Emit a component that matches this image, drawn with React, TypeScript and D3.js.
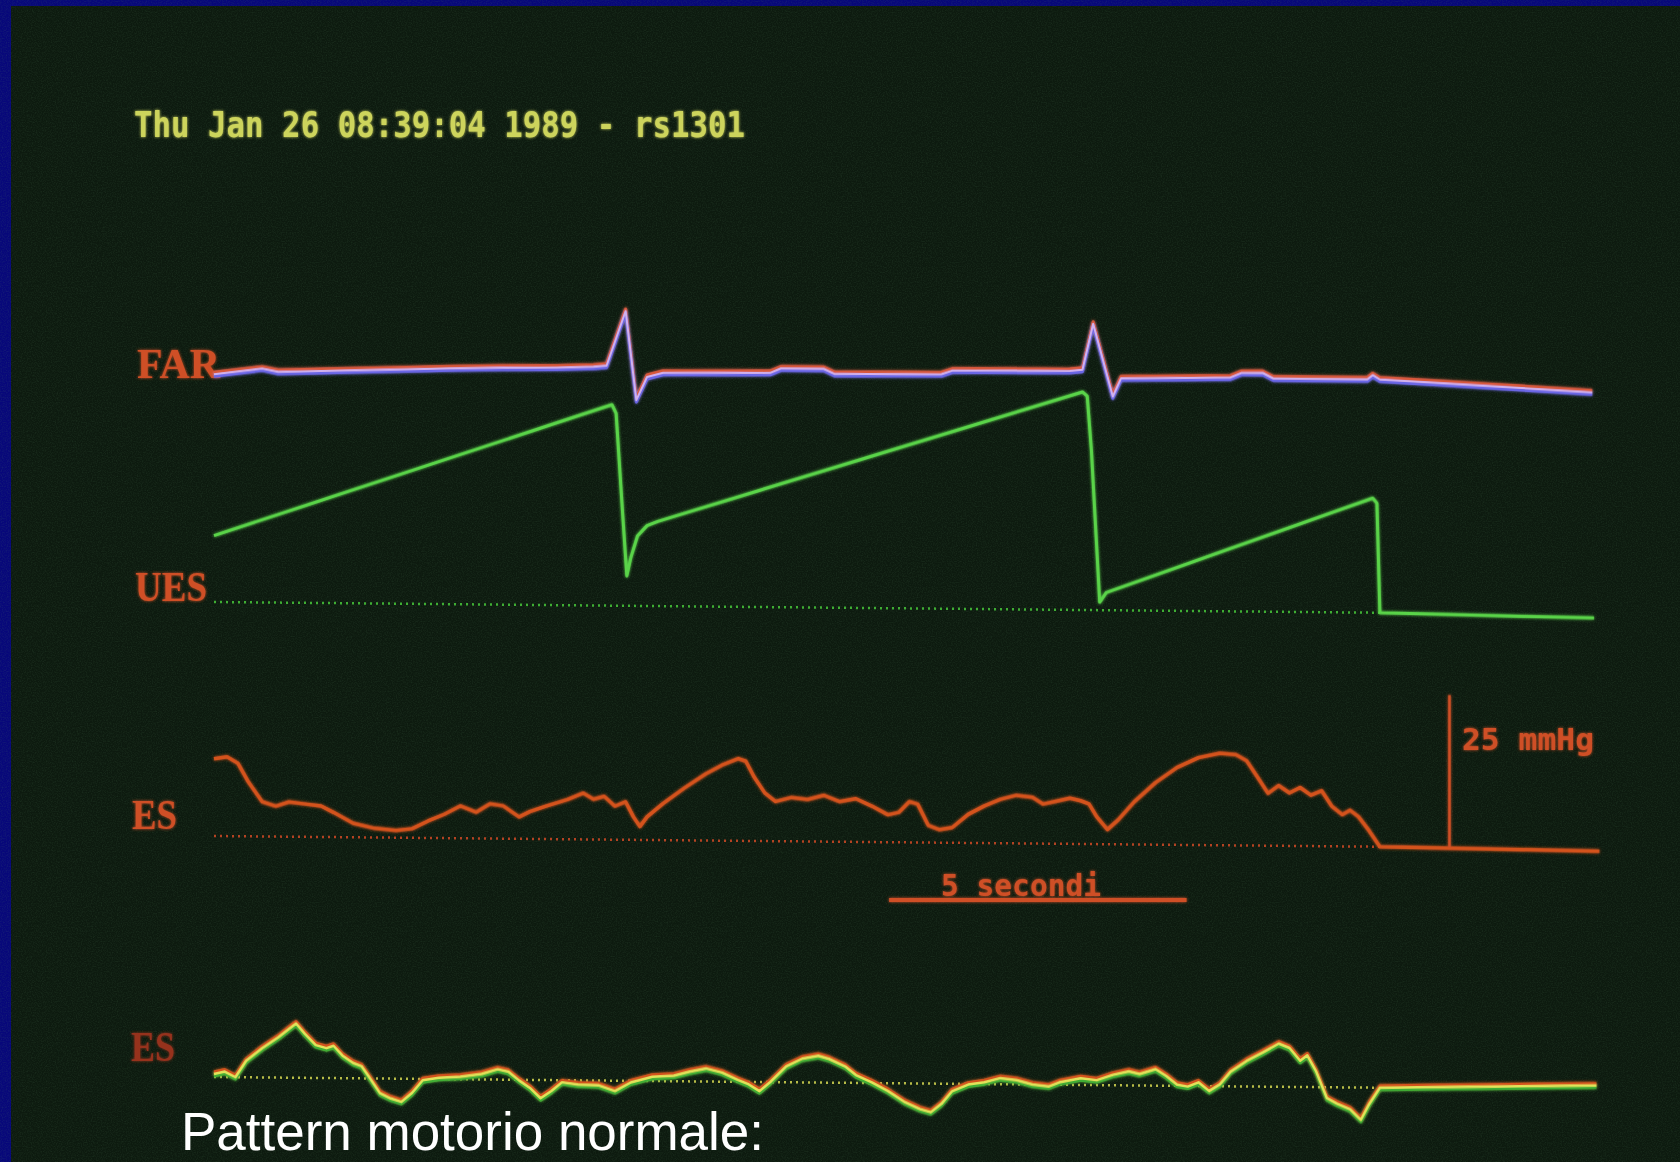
import * as d3 from 'd3';

const W = 1680;
const H = 1162;

const titleText = 'Thu Jan 26 08:39:04 1989 - rs1301';
const channelLabels = ['FAR', 'UES', 'ES', 'ES'];
const timeBarLabel = '5 secondi';
const pressureBarLabel = '25 mmHg';
const captionText = 'Pattern motorio normale:';

// [seconds, mmHg above the channel baseline]
const farTrace: [number, number][] = [
  [0, -0.2], [0.81, 0.8], [1.08, 0.3], [3.96, 1.1], [4.86, 1.3], [5.76, 1.4], [6.38, 1.6],
  [6.6, 1.8], [6.92, 10.8], [7.1, -3.8], [7.28, 0], [7.55, 0.7], [9.35, 0.85], [9.53, 1.6],
  [10.25, 1.6], [10.43, 0.8], [12.23, 0.9], [12.41, 1.5], [14.39, 1.65], [14.6, 1.85],
  [14.78, 9.4], [15.11, -2.5], [15.25, 0.5], [17.09, 0.8], [17.27, 1.55], [17.63, 1.6],
  [17.81, 0.7], [19.39, 0.7], [19.48, 1.4], [19.6, 0.7], [23.17, -1.1],
];

const uesTrace: [number, number][] = [
  [0, 10.9], [6.69, 33.0], [6.76, 31.6], [6.87, 15.1], [6.94, 4.9], [7.01, 8.0], [7.12, 11.5],
  [7.28, 13.2], [7.46, 13.9], [14.6, 35.8], [14.68, 35.1], [14.75, 26.3], [14.89, 1.3],
  [15.0, 2.9], [19.48, 18.8], [19.55, 18.0], [19.6, 0], [23.2, -0.55],
];

const es1Trace: [number, number][] = [
  [0, 12.7], [0.22, 13.0], [0.4, 12.0], [0.58, 8.9], [0.81, 5.7], [1.04, 5.0], [1.26, 5.7],
  [1.53, 5.4], [1.8, 5.1], [2.01, 4.05], [2.34, 2.3], [2.7, 1.5], [3.06, 1.2], [3.33, 1.5],
  [3.6, 2.8], [3.87, 3.9], [4.14, 5.3], [4.41, 4.3], [4.64, 5.7], [4.86, 5.4], [5.13, 3.6],
  [5.31, 4.5], [5.58, 5.4], [5.94, 6.5], [6.21, 7.6], [6.38, 6.6], [6.56, 7.1], [6.74, 5.5],
  [6.92, 6.25], [7.05, 3.8], [7.16, 2.2], [7.28, 3.8], [7.55, 6.0], [7.91, 8.6], [8.27, 10.95],
  [8.54, 12.4], [8.81, 13.5], [8.94, 13.1], [9.08, 10.5], [9.26, 7.9], [9.44, 6.5], [9.71, 7.2],
  [9.98, 6.9], [10.25, 7.6], [10.52, 6.6], [10.79, 7.1], [11.06, 5.9], [11.33, 4.5], [11.51, 4.9],
  [11.69, 6.7], [11.83, 6.3], [12.01, 2.8], [12.19, 2.15], [12.41, 2.5], [12.68, 4.7], [12.95, 6.1],
  [13.22, 7.2], [13.49, 7.9], [13.76, 7.6], [13.94, 6.5], [14.12, 6.9], [14.39, 7.5], [14.57, 7.1],
  [14.71, 6.6], [14.84, 4.5], [15.02, 2.4], [15.2, 4.0], [15.47, 7.0], [15.83, 10.2], [16.19, 12.7],
  [16.55, 14.35], [16.91, 15.1], [17.18, 14.9], [17.36, 13.9], [17.54, 11.3], [17.72, 8.6],
  [17.9, 9.9], [18.08, 8.7], [18.26, 9.6], [18.44, 8.35], [18.62, 9.1], [18.79, 6.6], [18.97, 5.2],
  [19.1, 5.95], [19.24, 4.9], [19.42, 2.6], [19.6, 0], [23.29, -0.4],
];

const es2Trace: [number, number][] = [
  [0, 0.5], [0.18, 0.9], [0.36, 0], [0.54, 2.7], [0.81, 4.8], [1.08, 6.6], [1.26, 8.0], [1.38, 8.9],
  [1.53, 7.2], [1.71, 5.4], [1.89, 4.9], [2.01, 5.3], [2.16, 3.7], [2.34, 2.5], [2.48, 2.0],
  [2.61, 0.2], [2.79, -2.4], [2.97, -3.25], [3.15, -3.8], [3.33, -2.3], [3.51, -0.2], [3.78, 0.2],
  [4.14, 0.4], [4.5, 0.9], [4.77, 1.7], [4.95, 1.3], [5.13, -0.1], [5.31, -1.3], [5.49, -3.0],
  [5.67, -1.8], [5.85, -0.35], [6.12, -0.7], [6.47, -0.8], [6.74, -1.7], [7.01, -0.25], [7.37, 0.7],
  [7.73, 0.9], [8.0, 1.6], [8.27, 2.15], [8.54, 1.5], [8.81, 0.3], [8.99, -0.4], [9.17, -1.5],
  [9.35, 0], [9.62, 2.6], [9.89, 3.9], [10.16, 4.4], [10.34, 3.9], [10.61, 2.7], [10.79, 1.3],
  [11.06, 0.1], [11.33, -1.3], [11.6, -3.0], [11.87, -4.2], [12.05, -4.7], [12.23, -3.3],
  [12.41, -1.2], [12.68, -0.1], [12.95, 0.3], [13.22, 1.0], [13.49, 0.7], [13.76, 0], [14.03, -0.3],
  [14.21, 0.4], [14.57, 1.1], [14.84, 0.8], [15.11, 1.7], [15.38, 2.3], [15.56, 1.9], [15.83, 2.7],
  [16.01, 1.6], [16.19, 0.2], [16.37, -0.1], [16.55, 0.6], [16.73, -0.8], [16.91, 0.3], [17.09, 2.4],
  [17.36, 4.2], [17.63, 5.6], [17.9, 7.1], [18.08, 6.4], [18.26, 4.3], [18.38, 5.2], [18.53, 2.55],
  [18.71, -1.8], [18.88, -2.7], [19.1, -3.6], [19.28, -5.3], [19.42, -2.7], [19.6, 0], [23.24, 0.7],
];

// the baseline (dotted) runs until the end of the recording window
const baselineEnd = 19.6;
const timeBarStart = 11.35;
const timeBarSeconds = 5;
const pressureBarAt = 20.77;
const pressureBarMmHg = 25;

const x = d3.scaleLinear().domain([0, 23.2]).range([214, 1594]);
const gain = 6.09; // px per mmHg
const channelY = (base: number) => d3.scaleLinear().domain([0, 25]).range([base, base - 25 * gain]);
const yFar = channelY(373);
const yUes = channelY(602);
const yEs1 = channelY(836);
const yEs2 = channelY(1077);

const tilt = 0.0092; // the photographed screen is slightly rotated
const tiltDeg = (Math.atan(tilt) * 180) / Math.PI;

const pathFor = (y: d3.ScaleLinear<number, number>) =>
  d3.line<[number, number]>().x((d) => x(d[0])).y((d) => y(d[1]));

const baseline = (y: d3.ScaleLinear<number, number>) =>
  pathFor(y)([[0, 0], [baselineEnd, 0]]) as string;

export default function App() {
  const farPath = pathFor(yFar)(farTrace) as string;
  const uesPath = pathFor(yUes)(uesTrace) as string;
  const es1Path = pathFor(yEs1)(es1Trace) as string;
  const es2Path = pathFor(yEs2)(es2Trace) as string;

  const mono = "'DejaVu Sans Mono', monospace";
  const serif = "'Liberation Serif', serif";
  const orange = '#cf5026';

  return (
    <svg width={W} height={H} style={{ display: 'block', position: 'absolute', left: 0, top: 0 }}>
      <defs>
        <filter id="glow" filterUnits="userSpaceOnUse" x={-50} y={-50} width={W + 100} height={H + 100}>
          <feGaussianBlur stdDeviation="1.5" result="b" />
          <feMerge>
            <feMergeNode in="b" />
            <feMergeNode in="SourceGraphic" />
          </feMerge>
        </filter>
        <filter id="grain">
          <feTurbulence type="fractalNoise" baseFrequency="0.8" numOctaves="2" seed="3" />
          <feColorMatrix type="matrix" values="0 0 0 0 0.1  0 0 0 0 0.25  0 0 0 0 0.12  0 0 0 0.9 -0.35" />
        </filter>
      </defs>

      <rect width={W} height={H} fill="#07077a" />
      <rect x={11} y={6} width={W - 11} height={H - 6} fill="#0d1a0f" />
      <rect x={11} y={6} width={W - 11} height={H - 6} filter="url(#grain)" opacity={0.35} />

      <text x={134} y={137} fontFamily={mono} fontWeight="bold" fontSize={36} fill="#cdd45c"
        textLength={611} lengthAdjust="spacingAndGlyphs" filter="url(#glow)">
        {titleText}
      </text>

      {/* channel labels */}
      <g fontFamily={serif} fontWeight="bold" fill={orange} filter="url(#glow)">
        <text x={137} y={378} fontSize={42} textLength={83} lengthAdjust="spacingAndGlyphs">{channelLabels[0]}</text>
        <text x={135} y={601} fontSize={42} textLength={72} lengthAdjust="spacingAndGlyphs">{channelLabels[1]}</text>
        <text x={132} y={829} fontSize={42} textLength={45} lengthAdjust="spacingAndGlyphs">{channelLabels[2]}</text>
        <text x={131} y={1061} fontSize={42} textLength={44} lengthAdjust="spacingAndGlyphs" fill="#96321f">{channelLabels[3]}</text>
      </g>

      <g transform={`translate(0, ${-214 * tilt}) skewY(${tiltDeg})`} fill="none" strokeLinejoin="round">
        {/* baselines */}
        <path d={baseline(yUes)} stroke="#3fae34" strokeWidth={2.5} strokeDasharray="2 4" />
        <path d={baseline(yEs1)} stroke="#b44322" strokeWidth={2.5} strokeDasharray="2 4" />
        <path d={baseline(yEs2)} stroke="#b8bc48" strokeWidth={2.5} strokeDasharray="2 4" />

        {/* FAR: red and blue pens slightly offset */}
        <g filter="url(#glow)">
          <path d={farPath} stroke="#d8583a" strokeWidth={3} transform="translate(0,-2)" />
          <path d={farPath} stroke="#6a66e6" strokeWidth={3} transform="translate(0,2)" />
          <path d={farPath} stroke="#d2b2ee" strokeWidth={2} />
        </g>

        <path d={uesPath} stroke="#5ad449" strokeWidth={3} filter="url(#glow)" />
        <path d={es1Path} stroke="#d4521f" strokeWidth={3.5} filter="url(#glow)" />

        <g filter="url(#glow)">
          <path d={es2Path} stroke="#d4521f" strokeWidth={3} transform="translate(0,-2)" />
          <path d={es2Path} stroke="#3fae34" strokeWidth={3} transform="translate(0,2)" />
          <path d={es2Path} stroke="#e2e35a" strokeWidth={2.5} />
        </g>

        {/* pressure calibration bar */}
        <line x1={x(pressureBarAt)} x2={x(pressureBarAt)} y1={yEs1(0)} y2={yEs1(pressureBarMmHg)}
          stroke={orange} strokeWidth={2.5} filter="url(#glow)" />
      </g>

      <line x1={x(timeBarStart)} x2={x(timeBarStart + timeBarSeconds)} y1={900} y2={900}
        stroke={orange} strokeWidth={4} filter="url(#glow)" />
      <text x={941} y={896} fontFamily={mono} fontWeight="bold" fontSize={31} fill={orange}
        textLength={160} lengthAdjust="spacingAndGlyphs" filter="url(#glow)">
        {timeBarLabel}
      </text>
      <text x={1462} y={750} fontFamily={mono} fontWeight="bold" fontSize={30} fill={orange}
        textLength={132} lengthAdjust="spacingAndGlyphs" filter="url(#glow)">
        {pressureBarLabel}
      </text>

      <text x={181} y={1150} fontFamily="'Liberation Sans', Arial, sans-serif" fontSize={53} fill="#ffffff"
        textLength={583} lengthAdjust="spacingAndGlyphs">
        {captionText}
      </text>
    </svg>
  );
}
